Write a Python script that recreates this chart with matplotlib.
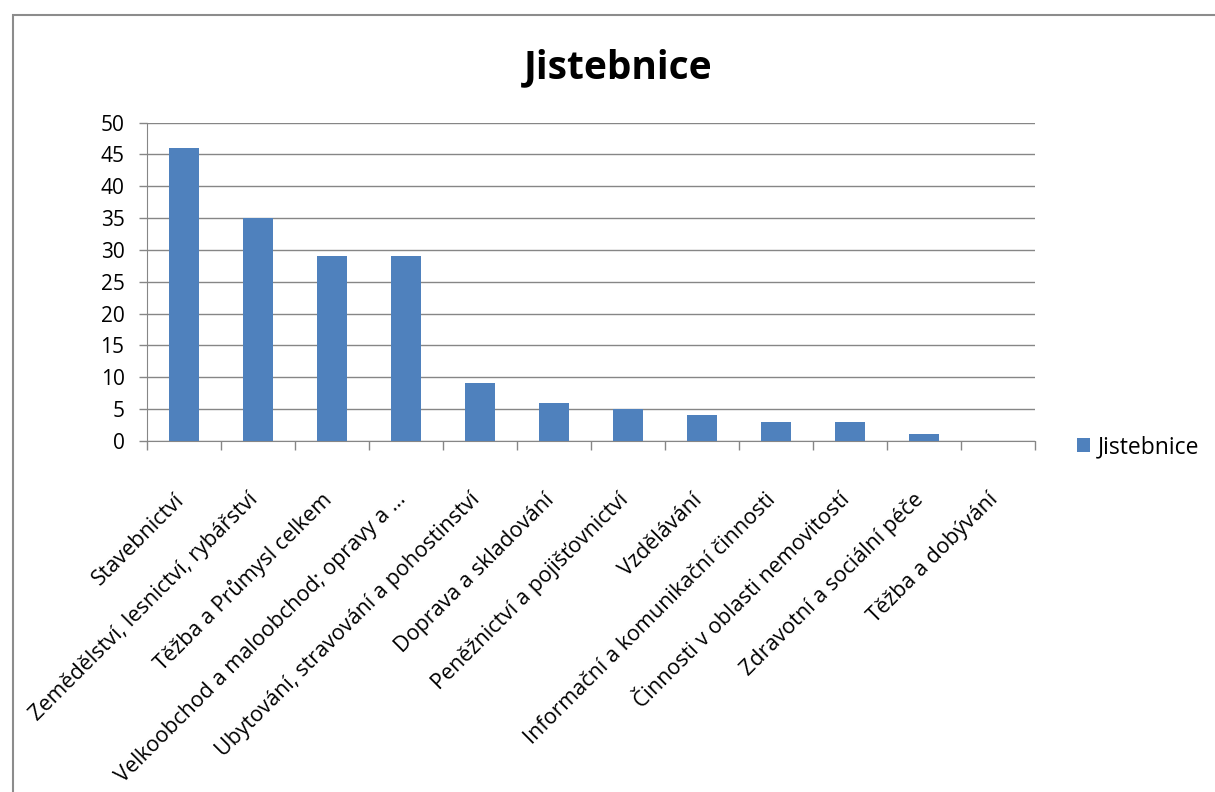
import matplotlib
matplotlib.use('Agg')
import matplotlib.pyplot as plt
import matplotlib.transforms as mtransforms
from matplotlib.patches import Rectangle
import numpy as np

# data
categories = [
    'Stavebnictví',
    'Zemědělství, lesnictví, rybářství',
    'Těžba a Průmysl celkem',
    'Velkoobchod a maloobchod; opravy a …',
    'Ubytování, stravování a pohostinství',
    'Doprava a skladování',
    'Peněžnictví a pojišťovnictví',
    'Vzdělávání',
    'Informační a komunikační činnosti',
    'Činnosti v oblasti nemovitostí',
    'Zdravotní a sociální péče',
    'Těžba a dobývání',
]
values = [46, 35, 29, 29, 9, 6, 5, 4, 3, 3, 1, 0]
series_name = 'Jistebnice'
chart_title = 'Jistebnice'
y_ticks = [0, 5, 10, 15, 20, 25, 30, 35, 40, 45, 50]

plt.rcParams['font.family'] = ['Open Sans', 'DejaVu Sans']

W, H = 1215, 792
fig = plt.figure(figsize=(W / 100, H / 100), dpi=100)
ax = fig.add_axes([146.7 / W, 1 - 440.7 / H, (1035 - 146.7) / W, (440.7 - 122.7) / H])

x = np.arange(len(categories))
ax.bar(x, values, width=0.4, color='#4F81BD', label=series_name, zorder=3)

ax.set_xlim(-0.5, len(categories) - 0.5)
ax.set_ylim(0, 50)
ax.set_yticks(y_ticks)
ax.yaxis.grid(True, color='#868686', linewidth=1)
ax.set_axisbelow(True)

grey = '#868686'
for s in ['top', 'right']:
    ax.spines[s].set_visible(False)
ax.spines['left'].set_color(grey)
ax.spines['bottom'].set_color(grey)
ax.tick_params(axis='y', length=6, width=1, color=grey, pad=10, labelsize=15)

# labels at centres, tick marks between categories
ax.set_xticks(x)
ax.set_xticklabels(categories, rotation=45, ha='right', va='center',
                   rotation_mode='anchor', fontsize=15.5)
ax.tick_params(axis='x', which='major', length=0, pad=0)
ax.set_xticks(np.arange(len(categories) + 1) - 0.5, minor=True)
ax.tick_params(axis='x', which='minor', length=6.3, width=1, color=grey)

offset = mtransforms.ScaledTranslation(-3 / 100, -56 / 100, fig.dpi_scale_trans)
for lbl in ax.get_xticklabels():
    lbl.set_transform(lbl.get_transform() + offset)

fig.text(618 / W, 1 - 78 / H, chart_title, ha='center', va='baseline',
         fontsize=28, fontweight='bold')

handles, labels = ax.get_legend_handles_labels()
fig.legend(handles, labels, loc='center left', bbox_to_anchor=(1077 / W, 1 - 447 / H),
           frameon=False, handlelength=0.55, handleheight=0.55, handletextpad=0.35,
           borderpad=0, borderaxespad=0, fontsize=16.5)

# outer chart frame (right and bottom edges lie outside the picture)
fig.add_artist(Rectangle((13 / W, -0.1), 1.2, 1 - 15 / H + 0.1, transform=fig.transFigure,
                         fill=False, edgecolor='#8c8c8c', linewidth=1.5))

fig.savefig('out.png', dpi=100)
